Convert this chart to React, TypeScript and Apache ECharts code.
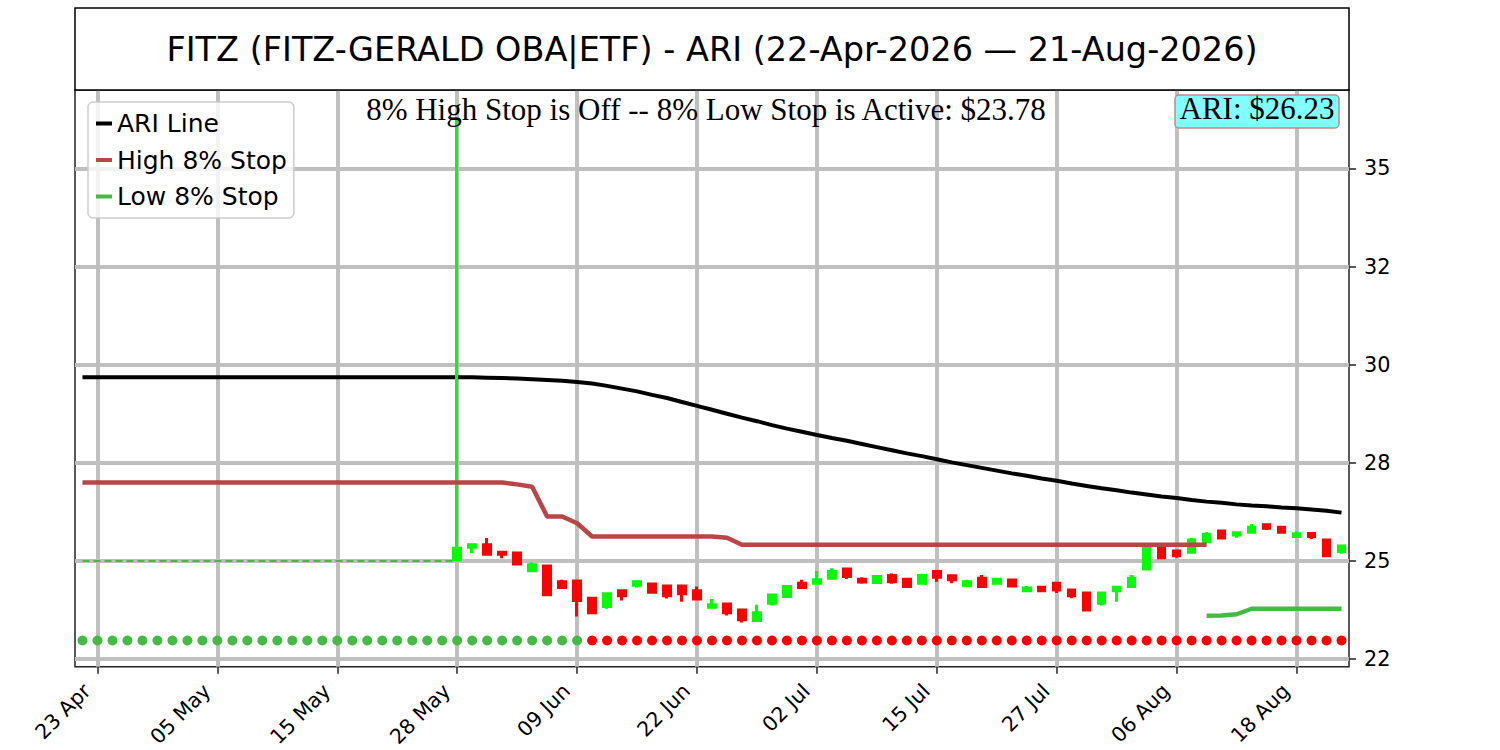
import React, { useEffect, useRef } from "react";
import * as echarts from "echarts";

const titleText = "FITZ (FITZ-GERALD OBA|ETF) - ARI (22-Apr-2026 \u2014 21-Aug-2026)";

const dates = [
  "22 Apr", "23 Apr", "24 Apr", "27 Apr", "28 Apr", "29 Apr", "30 Apr",
  "01 May", "04 May", "05 May", "06 May", "07 May", "08 May", "11 May", "12 May", "13 May", "14 May", "15 May",
  "18 May", "19 May", "20 May", "21 May", "22 May", "26 May", "27 May", "28 May", "29 May",
  "01 Jun", "02 Jun", "03 Jun", "04 Jun", "05 Jun", "08 Jun", "09 Jun", "10 Jun", "11 Jun", "12 Jun",
  "15 Jun", "16 Jun", "17 Jun", "18 Jun", "22 Jun", "23 Jun", "24 Jun", "25 Jun", "26 Jun", "29 Jun", "30 Jun",
  "01 Jul", "02 Jul", "06 Jul", "07 Jul", "08 Jul", "09 Jul", "10 Jul", "13 Jul", "14 Jul", "15 Jul", "16 Jul",
  "17 Jul", "20 Jul", "21 Jul", "22 Jul", "23 Jul", "24 Jul", "27 Jul", "28 Jul", "29 Jul", "30 Jul", "31 Jul",
  "03 Aug", "04 Aug", "05 Aug", "06 Aug", "07 Aug", "10 Aug", "11 Aug", "12 Aug", "13 Aug", "14 Aug",
  "17 Aug", "18 Aug", "19 Aug", "20 Aug", "21 Aug",
];

const xTickLabels = ["23 Apr", "05 May", "15 May", "28 May", "09 Jun", "22 Jun", "02 Jul", "15 Jul", "27 Jul", "06 Aug", "18 Aug"];
const yTickValues = [22.5, 25, 27.5, 30, 32.5, 35];
const yTickLabels = ["22", "25", "28", "30", "32", "35"];

const ariLine = [
  29.68, 29.68, 29.68, 29.68, 29.68, 29.68, 29.68, 29.68, 29.68, 29.68,
  29.68, 29.68, 29.68, 29.68, 29.68, 29.68, 29.68, 29.68, 29.68, 29.68,
  29.68, 29.68, 29.68, 29.68, 29.68, 29.68, 29.68, 29.67, 29.66, 29.65,
  29.63, 29.61, 29.59, 29.56, 29.52, 29.46, 29.39, 29.32, 29.23, 29.15,
  29.05, 28.95, 28.85, 28.75, 28.65, 28.56, 28.46, 28.37, 28.29, 28.21,
  28.13, 28.06, 27.98, 27.90, 27.82, 27.74, 27.67, 27.59, 27.51, 27.44,
  27.37, 27.30, 27.23, 27.17, 27.10, 27.04, 26.97, 26.91, 26.85, 26.80,
  26.74, 26.69, 26.64, 26.60, 26.55, 26.51, 26.48, 26.44, 26.41, 26.39,
  26.36, 26.34, 26.31, 26.28, 26.23,
];

// High 8% stop, from the first day through 10 Aug
const highStop = [
  27.00, 27.00, 27.00, 27.00, 27.00, 27.00, 27.00, 27.00, 27.00, 27.00,
  27.00, 27.00, 27.00, 27.00, 27.00, 27.00, 27.00, 27.00, 27.00, 27.00,
  27.00, 27.00, 27.00, 27.00, 27.00, 27.00, 27.00, 27.00, 27.00, 26.95,
  26.89, 26.13, 26.13, 25.96, 25.62, 25.62, 25.62, 25.62, 25.62, 25.62,
  25.62, 25.62, 25.62, 25.59, 25.41, 25.41, 25.41, 25.41, 25.41, 25.41,
  25.41, 25.41, 25.41, 25.41, 25.41, 25.41, 25.41, 25.41, 25.41, 25.41,
  25.41, 25.41, 25.41, 25.41, 25.41, 25.41, 25.41, 25.41, 25.41, 25.41,
  25.41, 25.41, 25.41, 25.41, 25.41, 25.41,
];

// Low 8% stop, from 10 Aug to the end
const lowStopStartDate = "10 Aug";
const lowStop = [23.60, 23.61, 23.64, 23.78, 23.78, 23.78, 23.78, 23.78, 23.78, 23.78];

// Candles from 28 May to the end
const firstCandleDate = "28 May";
const candleOpen = [
  25.03, 25.35, 25.41, 25.22, 25.20, 24.75, 24.87, 24.47, 24.49, 24.05,
  23.84, 24.24, 24.38, 24.41, 24.36, 24.36, 24.24, 23.82, 23.90, 23.75,
  23.48, 23.92, 24.09, 24.43, 24.43, 24.56, 24.79, 24.53, 24.45, 24.63,
  24.53, 24.43, 24.73, 24.62, 24.37, 24.56, 24.43, 24.51, 24.24, 24.33,
  24.43, 24.26, 24.18, 23.92, 24.24, 24.35, 24.79, 25.35, 25.25, 25.22,
  25.49, 25.76, 25.66, 25.73, 25.92, 25.86, 25.62, 25.70, 25.53, 25.24,
];
const candleClose = [
  25.32, 25.41, 25.17, 25.17, 24.92, 24.90, 24.14, 24.32, 23.99, 23.68,
  24.16, 24.11, 24.47, 24.20, 24.11, 24.16, 24.03, 23.88, 23.68, 23.50,
  23.68, 24.13, 24.35, 24.32, 24.52, 24.73, 24.60, 24.46, 24.60, 24.47,
  24.35, 24.63, 24.58, 24.52, 24.47, 24.35, 24.53, 24.36, 24.31, 24.24,
  24.26, 24.11, 23.75, 24.18, 24.33, 24.56, 25.32, 25.08, 25.13, 25.53,
  25.68, 25.58, 25.72, 25.86, 25.83, 25.73, 25.69, 25.62, 25.13, 25.38,
];
const candleLow = [
  25.00, 25.20, 25.17, 25.07, 24.90, 24.75, 24.14, 24.30, 23.58, 23.68,
  23.78, 23.99, 24.32, 24.20, 24.04, 23.96, 24.03, 23.82, 23.61, 23.43,
  23.48, 23.86, 24.09, 24.30, 24.40, 24.56, 24.54, 24.42, 24.42, 24.42,
  24.35, 24.42, 24.47, 24.43, 24.35, 24.35, 24.43, 24.36, 24.21, 24.24,
  24.18, 24.05, 23.75, 23.86, 23.96, 24.33, 24.79, 25.08, 25.08, 25.20,
  25.49, 25.58, 25.59, 25.73, 25.79, 25.73, 25.59, 25.56, 25.13, 25.18,
];
const candleHigh = [
  36.31, 25.41, 25.58, 25.22, 25.20, 24.96, 24.87, 24.52, 24.49, 24.07,
  24.20, 24.24, 24.49, 24.41, 24.36, 24.36, 24.35, 24.03, 23.90, 23.75,
  23.88, 24.13, 24.35, 24.52, 24.74, 24.81, 24.79, 24.58, 24.60, 24.68,
  24.53, 24.67, 24.73, 24.62, 24.52, 24.64, 24.53, 24.51, 24.36, 24.36,
  24.43, 24.26, 24.18, 24.18, 24.33, 24.64, 25.32, 25.41, 25.25, 25.58,
  25.73, 25.76, 25.72, 25.94, 25.92, 25.86, 25.75, 25.70, 25.53, 25.38,
];

// Signal dots along the bottom
const signalLevel = 22.97;
const lastGreenSignalDate = "09 Jun";
// Dashed reference level before the first candle
const referenceLevel = 25.0;

const SANS = "DejaVu Sans";
const SERIF = "Liberation Serif";
const GREEN = "#44bb44";
const BROWN = "#bb4444";
const GRID_GRAY = "#bfbfbf";

function buildOption() {
  const candleStart = dates.indexOf(firstCandleDate);
  const lowStart = dates.indexOf(lowStopStartDate);
  const lastGreen = dates.indexOf(lastGreenSignalDate);

  const candleData = dates.map((_, i) => {
    const k = i - candleStart;
    if (k < 0) return "-";
    return [candleOpen[k], candleClose[k], candleLow[k], candleHigh[k]];
  });
  const highData = dates.map((_, i) => (i < highStop.length ? highStop[i] : null));
  const lowData = dates.map((_, i) => (i >= lowStart ? lowStop[i - lowStart] : null));
  const greenDots = dates.map((_, i) => (i <= lastGreen ? signalLevel : null));
  const redDots = dates.map((_, i) => (i > lastGreen ? signalLevel : null));
  const refData = dates.map((_, i) => (i <= candleStart ? referenceLevel : null));

  const isTick = (i: number) => xTickLabels.indexOf(dates[i]) >= 0;
  const ariLast = ariLine[ariLine.length - 1];
  const lowLast = lowStop[lowStop.length - 1];

  return {
    animation: false,
    backgroundColor: "#ffffff",
    textStyle: { fontFamily: SANS },
    grid: {
      left: 75,
      right: 151,
      top: 90,
      bottom: 83,
      show: true,
      borderColor: "#222222",
      borderWidth: 1.5,
      backgroundColor: "transparent",
    },
    legend: {
      data: ["ARI Line", "High 8% Stop", "Low 8% Stop"],
      orient: "vertical",
      left: 88,
      top: 102,
      padding: [9, 7, 9, 8],
      itemGap: 11.5,
      itemWidth: 16,
      itemHeight: 4,
      icon: "rect",
      backgroundColor: "rgba(255,255,255,0.8)",
      borderColor: "#cccccc",
      borderWidth: 1.5,
      borderRadius: 5,
      textStyle: { fontFamily: SANS, fontSize: 25, color: "#000000", lineHeight: 25 },
    },
    xAxis: {
      type: "category",
      data: dates,
      boundaryGap: true,
      axisLine: { show: false },
      axisTick: {
        show: true,
        alignWithLabel: true,
        interval: (i: number) => isTick(i),
        length: 7,
        lineStyle: { color: "#222222", width: 1.5 },
      },
      axisLabel: {
        interval: (i: number) => isTick(i),
        rotate: 45,
        fontSize: 20.5,
        fontFamily: SANS,
        color: "#000000",
        margin: 10,
        padding: [0, 15, 0, 0],
      },
      splitLine: { show: false },
    },
    yAxis: {
      type: "value",
      position: "right",
      min: 22.3,
      max: 37,
      axisLine: { show: false },
      axisTick: {
        show: true,
        customValues: yTickValues,
        length: 7,
        lineStyle: { color: "#222222", width: 1.5 },
      },
      axisLabel: {
        customValues: yTickValues,
        formatter: (v: number) => {
          const k = yTickValues.findIndex((t) => Math.abs(t - v) < 1e-6);
          return k >= 0 ? yTickLabels[k] : "";
        },
        fontSize: 20.8,
        fontFamily: SANS,
        color: "#000000",
        margin: 15,
      },
      splitLine: { show: true, lineStyle: { color: GRID_GRAY, width: 4 } },
    },
    graphic: [
      {
        type: "rect",
        shape: { x: 75, y: 8, width: 1274, height: 82 },
        style: { fill: "#ffffff", stroke: "#000000", lineWidth: 1.5 },
        z: 10,
      },
      {
        type: "text",
        x: 712,
        y: 49.5,
        z: 11,
        style: {
          text: titleText,
          fontFamily: SANS,
          fontSize: 33.5,
          fill: "#000000",
          textAlign: "center",
          textVerticalAlign: "middle",
        },
      },
      {
        type: "text",
        x: 706,
        y: 109,
        z: 11,
        style: {
          text: `8% High Stop is Off -- 8% Low Stop is Active: $${lowLast.toFixed(2)}`,
          fontFamily: SERIF,
          fontSize: 31,
          fill: "#000000",
          textAlign: "center",
          textVerticalAlign: "middle",
        },
      },
      {
        type: "rect",
        shape: { x: 1175, y: 95, width: 164, height: 33, r: 4 },
        style: { fill: "#80ffff", stroke: "#c88888", lineWidth: 1.5 },
        z: 11,
      },
      {
        type: "text",
        x: 1257,
        y: 108.5,
        z: 12,
        style: {
          text: `ARI: $${ariLast.toFixed(2)}`,
          fontFamily: SERIF,
          fontSize: 31,
          fill: "#000000",
          textAlign: "center",
          textVerticalAlign: "middle",
        },
      },
    ],
    series: [
      {
        name: "reference",
        type: "line",
        data: refData,
        showSymbol: false,
        silent: true,
        z: 2,
        color: GREEN,
        lineStyle: { color: GREEN, width: 2, type: [7, 4] },
        markLine: {
          z: 1,
          silent: true,
          symbol: "none",
          label: { show: false },
          lineStyle: { color: GRID_GRAY, width: 4, type: "solid" },
          data: xTickLabels.map((d) => ({ xAxis: d })),
        },
      },
      {
        name: "ARI Line",
        type: "line",
        data: ariLine,
        showSymbol: false,
        silent: true,
        z: 3,
        color: "#000000",
        lineStyle: { color: "#000000", width: 4 },
      },
      {
        name: "candles",
        type: "candlestick",
        data: candleData,
        barWidth: 7,
        silent: true,
        z: 4,
        itemStyle: {
          color: "#00ff00",
          color0: "#ff0000",
          borderColor: "#00ff00",
          borderColor0: "#ff0000",
          borderWidth: 3,
        },
      },
      {
        name: "High 8% Stop",
        type: "line",
        data: highData,
        showSymbol: false,
        silent: true,
        z: 5,
        color: BROWN,
        lineStyle: { color: BROWN, width: 4.5 },
      },
      {
        name: "Low 8% Stop",
        type: "line",
        data: lowData,
        showSymbol: false,
        silent: true,
        z: 5,
        color: GREEN,
        lineStyle: { color: GREEN, width: 4.5 },
      },
      {
        name: "signalUp",
        type: "scatter",
        data: greenDots,
        symbolSize: 10,
        silent: true,
        z: 6,
        itemStyle: { color: GREEN, opacity: 1 },
      },
      {
        name: "signalDown",
        type: "scatter",
        data: redDots,
        symbolSize: 10,
        silent: true,
        z: 6,
        itemStyle: { color: "#ff0000", opacity: 1 },
      },
    ],
  };
}

export default function App() {
  const ref = useRef<HTMLDivElement>(null);
  useEffect(() => {
    if (!ref.current) return;
    const chart = echarts.init(ref.current, null, { renderer: "svg" });
    chart.setOption(buildOption() as any);
    return () => chart.dispose();
  }, []);
  return (
    <div
      ref={ref}
      style={{ position: "fixed", left: 0, top: 0, width: 1500, height: 750, background: "#ffffff" }}
    />
  );
}
